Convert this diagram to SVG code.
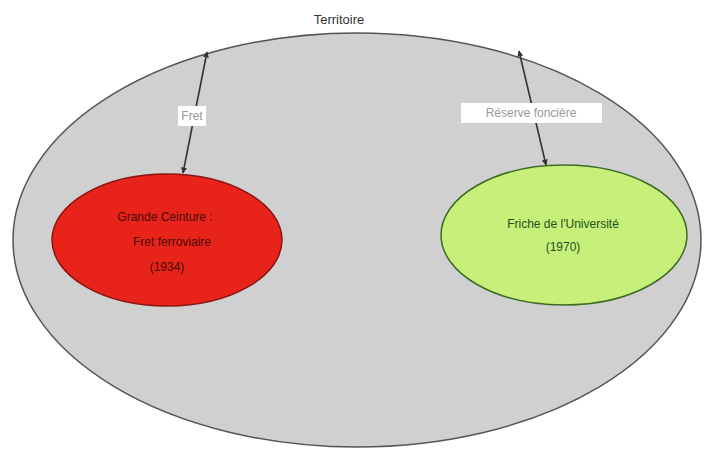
<svg xmlns="http://www.w3.org/2000/svg" width="710" height="450" viewBox="0 0 710 450">
<defs>
<marker id="ah" viewBox="0 0 10 10" refX="9" refY="5" markerWidth="6" markerHeight="6" orient="auto-start-reverse" markerUnits="userSpaceOnUse"><path d="M0,0 L10,5 L0,10 z" fill="#333"/></marker>
<style>
text{font-family:"Liberation Sans",Arial,sans-serif;text-anchor:middle}
.t{font-size:13px;fill:#333}
.lbl{font-size:12px;fill:#999}
.red{font-size:12px;fill:#4a0808}
.grn{font-size:12px;fill:#25501a}
.conn{stroke:#333;stroke-width:1.6;fill:none;marker-start:url(#ah);marker-end:url(#ah)}
</style>
</defs>
<rect width="710" height="450" fill="#fff"/>
<g id="territoire">
<ellipse cx="357" cy="240" rx="344" ry="207" fill="#d0d0d0" stroke="#555" stroke-width="1.5"/>
<text class="t" x="339" y="24">Territoire</text>
</g>
<g id="grande-ceinture">
<ellipse cx="167" cy="240" rx="115" ry="66" fill="#e8241a" stroke="#8a1410" stroke-width="1.5"/>
<text class="red" x="165" y="221">Grande Ceinture :</text>
<text class="red" x="172" y="246">Fret ferroviaire</text>
<text class="red" x="167" y="271">(1934)</text>
</g>
<g id="friche">
<ellipse cx="564" cy="235" rx="123" ry="70" fill="#c6f07a" stroke="#3d6b22" stroke-width="1.5"/>
<text class="grn" x="563" y="228">Friche de l'Université</text>
<text class="grn" x="563" y="251">(1970)</text>
</g>
<g id="connectors">
<line class="conn" x1="207" y1="52" x2="183" y2="173"/>
<line class="conn" x1="519" y1="51" x2="546" y2="165"/>
<rect x="178" y="106" width="28" height="20" fill="#fff"/>
<text class="lbl" x="192" y="120">Fret</text>
<rect x="461" y="103" width="141" height="20" fill="#fff"/>
<text class="lbl" x="531" y="117">Réserve foncière</text>
</g>
</svg>
